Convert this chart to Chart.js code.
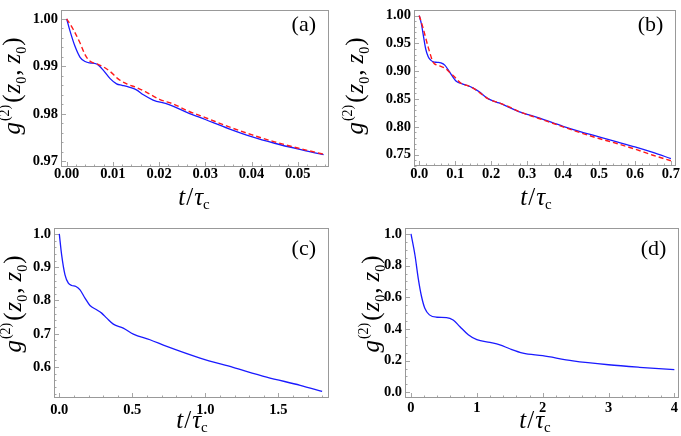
<!DOCTYPE html>
<html><head><meta charset="utf-8">
<script src="https://cdn.jsdelivr.net/npm/chart.js@4/dist/chart.umd.min.js"></script>
<style>
html,body{margin:0;padding:0;background:#fff;width:681px;height:436px;overflow:hidden}
.p{position:absolute}
canvas{display:block}
</style></head><body>
<div class="p" style="left:0;top:0"><canvas id="ca" width="340" height="218"></canvas></div>
<div class="p" style="left:340px;top:0"><canvas id="cb" width="341" height="218"></canvas></div>
<div class="p" style="left:0;top:218px"><canvas id="cc" width="340" height="218"></canvas></div>
<div class="p" style="left:340px;top:218px"><canvas id="cd" width="341" height="218"></canvas></div>
<script>
// ---------- Panel (a) ----------
const tA_blue = [0,0.0007,0.0018,0.0029,0.0040,0.0050,0.0060,0.0068,0.0079,0.0094,0.0108,0.0120,0.0135,0.0150,0.0166,0.0187,0.0220,0.0260,0.0300,0.0350,0.0400,0.0450,0.0500,0.0556];
const gA_blue = [1.0000,0.9975,0.9942,0.9919,0.9910,0.9907,0.9906,0.9903,0.9892,0.9874,0.9863,0.9860,0.9856,0.9851,0.9840,0.9829,0.9820,0.9803,0.9788,0.9769,0.9752,0.9738,0.9726,0.9714];
const tA_red = [0,0.0014,0.0029,0.0040,0.0050,0.0065,0.0079,0.0094,0.0112,0.0130,0.0152,0.0173,0.0202,0.0230,0.0260,0.0300,0.0350,0.0400,0.0450,0.0500,0.0556];
const gA_red = [1.0000,0.9978,0.9949,0.9924,0.9911,0.9905,0.9899,0.9889,0.9873,0.9863,0.9855,0.9845,0.9830,0.9821,0.9807,0.9792,0.9773,0.9756,0.9741,0.9728,0.9715];
const xTicksA = [0,0.01,0.02,0.03,0.04,0.05];
const yTicksA = [0.97,0.98,0.99,1.00];

// ---------- Panel (b) ----------
const tB_blue = [0,0.006,0.011,0.018,0.025,0.032,0.039,0.050,0.060,0.071,0.085,0.103,0.121,0.135,0.149,0.167,0.186,0.200,0.222,0.250,0.277,0.333,0.40,0.45,0.50,0.55,0.60,0.65,0.70];
const gB_blue = [1.000,0.985,0.966,0.940,0.926,0.920,0.917,0.916,0.915,0.911,0.898,0.882,0.877,0.874,0.870,0.863,0.853,0.848,0.843,0.835,0.8275,0.816,0.801,0.791,0.782,0.773,0.764,0.754,0.743];
const tB_red = [0,0.011,0.025,0.039,0.050,0.057,0.070,0.080,0.098,0.117,0.135,0.149,0.167,0.190,0.222,0.250,0.277,0.333,0.40,0.45,0.50,0.55,0.60,0.65,0.70];
const gB_red = [1.000,0.977,0.943,0.916,0.911,0.9095,0.906,0.901,0.890,0.878,0.874,0.870,0.862,0.851,0.843,0.836,0.8275,0.815,0.800,0.789,0.779,0.770,0.760,0.749,0.739];
const xTicksB = [0,0.1,0.2,0.3,0.4,0.5,0.6,0.7];
const yTicksB = [0.75,0.80,0.85,0.90,0.95,1.00];

// ---------- Panel (c) ----------
const tC = [0,0.016,0.039,0.062,0.085,0.114,0.142,0.176,0.210,0.256,0.290,0.325,0.370,0.438,0.507,0.621,0.736,0.964,1.19,1.42,1.65,1.80];
const gC = [1.000,0.937,0.877,0.852,0.845,0.842,0.832,0.807,0.785,0.772,0.762,0.747,0.729,0.717,0.699,0.682,0.662,0.627,0.599,0.570,0.545,0.527];
const xTicksC = [0,0.5,1.0,1.5];
const yTicksC = [0.6,0.7,0.8,0.9,1.0];

// ---------- Panel (d) ----------
const tD = [0,0.06,0.11,0.16,0.21,0.28,0.39,0.54,0.64,0.74,0.87,1.0,1.2,1.35,1.5,1.7,2.0,2.46,3.0,3.47,4.0];
const gD = [1.000,0.867,0.720,0.605,0.531,0.489,0.474,0.472,0.457,0.416,0.363,0.332,0.315,0.300,0.275,0.248,0.231,0.199,0.174,0.158,0.143];
const xTicksD = [0,1,2,3,4];
const yTicksD = [0.0,0.2,0.4,0.6,0.8,1.0];

const SERIF = '"Liberation Serif", "Times New Roman", serif';

function pts(xs, ys){ return xs.map((x,i)=>({x:x, y:ys[i]})); }

function drawRich(ctx, segs, x, y, rotate){
  ctx.save();
  ctx.translate(x, y);
  if (rotate) ctx.rotate(-Math.PI/2);
  let total = 0;
  segs.forEach(s => { ctx.font = s.font; s.w = ctx.measureText(s.t).width + (s.sp||0); total += s.w; });
  let cx = -total/2;
  ctx.fillStyle = '#000'; ctx.textBaseline = 'alphabetic'; ctx.textAlign = 'left';
  segs.forEach(s => { ctx.font = s.font; ctx.fillText(s.t, cx, s.dy||0); cx += s.w; });
  ctx.restore();
}

const IT = 'italic 25px ' + SERIF, UP = '25px ' + SERIF, SM = '14px ' + SERIF;
const yTitleSegs = [
  {t:'g', font:IT, sp:1},
  {t:'(2)', font:SM, dy:-11, sp:2},
  {t:'(', font:UP, sp:1},
  {t:'z', font:IT, sp:0},
  {t:'0', font:SM, dy:6, sp:1},
  {t:',', font:UP, sp:6},
  {t:'z', font:IT},
  {t:'0', font:SM, dy:6, sp:1},
  {t:')', font:UP}
];
const xTitleSegs = [
  {t:'t', font:IT, sp:1},
  {t:'/', font:UP, sp:1},
  {t:'τ', font:IT, sp:0},
  {t:'c', font:'15px ' + SERIF, dy:4}
];

function minorList(min, max, step){
  const out = [];
  const start = Math.ceil(min/step - 1e-9);
  for (let k = start; k*step <= max + 1e-12; k++) out.push(k*step);
  return out;
}

const framePlugin = {
  id: 'frame',
  beforeDatasetsDraw(chart, args, o){
    const {ctx, chartArea:a} = chart;
    const xs = chart.scales.x, ys = chart.scales.y;
    ctx.save();
    ctx.strokeStyle = '#a6a6a6'; ctx.lineWidth = 1;
    ctx.beginPath();
    minorList(xs.min, xs.max, o.xMinor).forEach(v => {
      const px = Math.round(xs.getPixelForValue(v)) + 0.5;
      ctx.moveTo(px, a.bottom); ctx.lineTo(px, a.bottom - 2.5);
    });
    minorList(ys.min, ys.max, o.yMinor).forEach(v => {
      const py = Math.round(ys.getPixelForValue(v)) + 0.5;
      ctx.moveTo(a.left, py); ctx.lineTo(a.left + 2.5, py);
    });
    ctx.stroke();
    ctx.beginPath();
    o.xMajor.forEach(v => {
      const px = Math.round(xs.getPixelForValue(v)) + 0.5;
      ctx.moveTo(px, a.bottom); ctx.lineTo(px, a.bottom - 5);
    });
    o.yMajor.forEach(v => {
      const py = Math.round(ys.getPixelForValue(v)) + 0.5;
      ctx.moveTo(a.left, py); ctx.lineTo(a.left + 5, py);
    });
    ctx.stroke();
    ctx.strokeStyle = '#999999';
    ctx.strokeRect(Math.round(a.left) + 0.5, Math.round(a.top) + 0.5, Math.round(a.right - a.left) - 1, Math.round(a.bottom - a.top) - 1);
    ctx.restore();
  },
  afterDraw(chart, args, o){
    const {ctx, chartArea:a} = chart;
    drawRich(ctx, yTitleSegs, o.yTitleX, o.yTitleY, true);
    drawRich(ctx, xTitleSegs, o.xTitleX, o.xTitleY, false);
    ctx.save();
    ctx.font = '22px ' + SERIF; ctx.fillStyle = '#000';
    ctx.textAlign = 'right'; ctx.textBaseline = 'middle';
    ctx.fillText(o.label, a.right - 13, o.labelY);
    ctx.restore();
  }
};

function makePanel(id, P){
  const datasets = [];
  if (P.red) datasets.push({data: P.red, borderColor:'#ff1a1a', borderWidth:1.4, borderDash:[5,3], pointRadius:0, cubicInterpolationMode:'monotone', fill:false});
  datasets.push({data: P.blue, borderColor:'#1a1aff', borderWidth:1.3, pointRadius:0, cubicInterpolationMode:'monotone', fill:false});
  const tickFont = {family: SERIF, size: 14.5, weight: 'bold', lineHeight: 1};
  new Chart(document.getElementById(id), {
    type: 'line',
    data: {datasets},
    options: {
      responsive: false, animation: false, devicePixelRatio: 1,
      layout: {padding: {left: 0, right: P.padR, top: P.padT, bottom: 0}},
      plugins: {
        legend: {display:false}, tooltip: {enabled:false},
        frame: {
          xMajor: P.xTicks, yMajor: P.yTicks, xMinor: P.xMinor, yMinor: P.yMinor,
          label: P.label, labelY: P.labelY,
          yTitleX: P.yTitleX, yTitleY: P.yTitleY, xTitleX: P.xTitleX, xTitleY: P.xTitleY
        }
      },
      scales: {
        x: {
          type: 'linear', min: P.xMin, max: P.xMax,
          grid: {display:false, drawTicks:false}, border: {display:false},
          ticks: {font: tickFont, color:'#000', padding: P.xPad, maxRotation:0, autoSkip:false,
                  callback: v => v.toFixed(P.xDec)},
          afterBuildTicks: s => { s.ticks = P.xTicks.map(v => ({value: v})); },
          afterFit: s => { s.height = P.bottomH; }
        },
        y: {
          type: 'linear', min: P.yMin, max: P.yMax,
          grid: {display:false, drawTicks:false}, border: {display:false},
          ticks: {font: tickFont, color:'#000', padding: 3, autoSkip:false,
                  callback: v => v.toFixed(P.yDec)},
          afterBuildTicks: s => { s.ticks = P.yTicks.map(v => ({value: v})); },
          afterFit: s => { s.width = P.leftW; }
        }
      }
    },
    plugins: [framePlugin]
  });
}

makePanel('ca', {
  blue: pts(tA_blue, gA_blue), red: pts(tA_red, gA_red),
  xTicks: xTicksA, yTicks: yTicksA, xMinor: 0.002, yMinor: 0.002, xDec: 2, yDec: 2,
  xMin: -0.00123, xMax: 0.05677, yMin: 0.9688, yMax: 1.0018,
  leftW: 61, padR: 11, padT: 1, bottomH: 51, xPad: 0,
  label: '(a)', labelY: 25, yTitleX: 20, yTitleY: 86, xTitleX: 194, xTitleY: 205
});
makePanel('cb', {
  blue: pts(tB_blue, gB_blue), red: pts(tB_red, gB_red),
  xTicks: xTicksB, yTicks: yTicksB, xMinor: 0.02, yMinor: 0.01, xDec: 1, yDec: 2,
  xMin: -0.0146, xMax: 0.7154, yMin: 0.7296, yMax: 1.0097,
  leftW: 74, padR: 2, padT: 1, bottomH: 52, xPad: 1,
  label: '(b)', labelY: 25, yTitleX: 23, yTitleY: 86, xTitleX: 196, xTitleY: 205
});
makePanel('cc', {
  blue: pts(tC, gC),
  xTicks: xTicksC, yTicks: yTicksC, xMinor: 0.1, yMinor: 0.02, xDec: 1, yDec: 1,
  xMin: -0.0363, xMax: 1.847, yMin: 0.507, yMax: 1.017,
  leftW: 54, padR: 11, padT: 10, bottomH: 38, xPad: 5,
  label: '(c)', labelY: 31, yTitleX: 21, yTitleY: 86, xTitleX: 192, xTitleY: 210
});
makePanel('cd', {
  blue: pts(tD, gD),
  xTicks: xTicksD, yTicks: yTicksD, xMinor: 0.2, yMinor: 0.05, xDec: 0, yDec: 1,
  xMin: -0.091, xMax: 4.076, yMin: -0.036, yMax: 1.036,
  leftW: 65, padR: 1, padT: 10, bottomH: 38, xPad: 3,
  label: '(d)', labelY: 31, yTitleX: 39, yTitleY: 86, xTitleX: 195, xTitleY: 210
});
</script>
</body></html>
